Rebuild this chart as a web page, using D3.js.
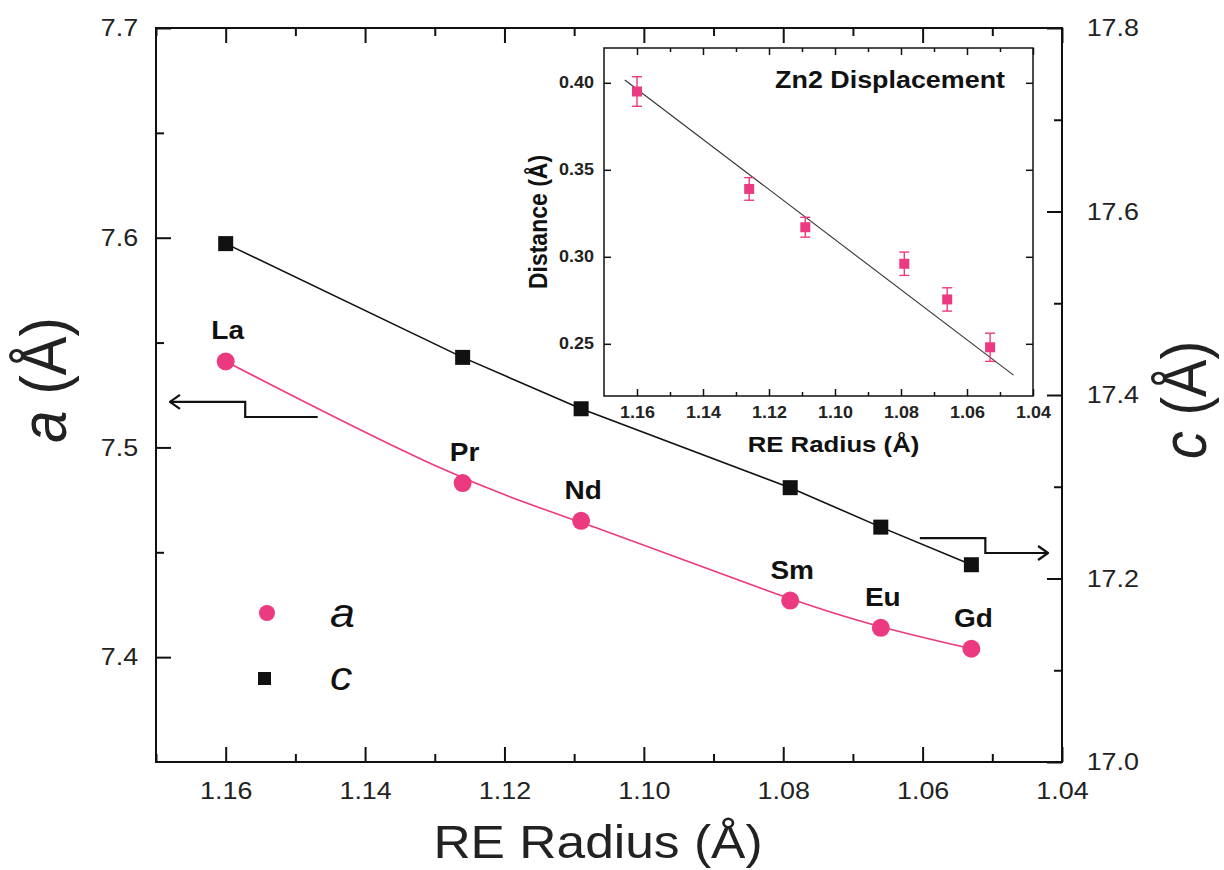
<!DOCTYPE html>
<html>
<head>
<meta charset="utf-8">
<script src="https://cdn.jsdelivr.net/npm/d3@7"></script>
<style>
  html, body { margin: 0; padding: 0; background: #fff; }
  svg { display: block; font-family: "Liberation Sans", Arial, sans-serif; }
</style>
</head>
<body>
<script>
// ---------------- data ----------------
const elements = ["La", "Pr", "Nd", "Sm", "Eu", "Gd"];
const radius   = [1.16, 1.126, 1.109, 1.079, 1.066, 1.053];
const aValues  = [7.541, 7.483, 7.465, 7.427, 7.414, 7.404];
const cValues  = [17.565, 17.441, 17.385, 17.299, 17.256, 17.215];

const xTicks      = [1.16, 1.14, 1.12, 1.10, 1.08, 1.06, 1.04];
const xMinorTicks = [1.17, 1.15, 1.13, 1.11, 1.09, 1.07, 1.05];
const aTicks      = [7.4, 7.5, 7.6, 7.7];
const aMinorTicks = [7.45, 7.55, 7.65];
const cTicks      = [17.0, 17.2, 17.4, 17.6, 17.8];
const cMinorTicks = [17.1, 17.3, 17.5, 17.7];

// inset (Zn2 displacement)
const distValues  = [0.395, 0.339, 0.317, 0.296, 0.2755, 0.248];
const distErrors  = [0.0085, 0.0065, 0.0057, 0.0067, 0.0067, 0.0081];
const fitX        = [1.1637, 1.0459];
const fitY        = [0.4016, 0.232];
const insetXTicks = [1.16, 1.14, 1.12, 1.10, 1.08, 1.06, 1.04];
const insetXMinor = [1.15, 1.13, 1.11, 1.09, 1.07, 1.05];
const insetYTicks = [0.25, 0.30, 0.35, 0.40];

// arrows (data coordinates): left arrow -> a axis, right arrow -> c axis
const arrowAX = [1.1468, 1.1572, 1.1572, 1.1680];
const arrowAY = [7.5145, 7.5145, 7.5217, 7.5217];
const arrowCX = [1.0604, 1.0510, 1.0510, 1.0420];
const arrowCY = [17.2441, 17.2441, 17.2278, 17.2278];

// ---------------- setup ----------------
const W = 1224, H = 870;
const SX = 1.12;           // horizontal stretch of the original rendering
const pink = "#ec3a80";
const ink = "#111";

const svg = d3.select("body").append("svg").attr("width", W).attr("height", H);
svg.append("rect").attr("width", W).attr("height", H).attr("fill", "#fff");

const defs = svg.append("defs");
defs.append("marker").attr("id", "arrowhead")
  .attr("viewBox", "0 0 12 16").attr("refX", 11).attr("refY", 8)
  .attr("markerWidth", 12).attr("markerHeight", 16).attr("markerUnits", "userSpaceOnUse")
  .attr("orient", "auto")
  .append("path").attr("d", "M1,1 L11,8 L1,15").attr("fill", "none")
  .attr("stroke", ink).attr("stroke-width", 2.2).attr("stroke-linejoin", "miter");

const L = 156, R = 1062, T = 28, B = 762;
const x  = d3.scaleLinear().domain([1.17, 1.04]).range([L, R]);
const yA = d3.scaleLinear().domain([7.35, 7.7]).range([B, T]);
const yC = d3.scaleLinear().domain([17.0, 17.8]).range([B, T]);

function styleAxis(g, fontSize, weight) {
  g.select(".domain").remove();
  g.selectAll(".tick line").attr("stroke", ink).attr("stroke-width", 2);
  g.selectAll(".tick text").attr("fill", "#222")
    .style("font-size", fontSize + "px").style("font-weight", weight || "normal")
    .attr("transform", `scale(${SX},1)`);
}

// main axes
const fmt2 = d3.format(".2f"), fmt1 = d3.format(".1f");
svg.append("g").attr("transform", `translate(0,${B})`)
  .call(d3.axisBottom(x).tickValues(xTicks).tickFormat(fmt2).tickSizeInner(-15).tickSizeOuter(0).tickPadding(20))
  .call(g => styleAxis(g, 24));
svg.append("g").attr("transform", `translate(0,${B})`)
  .call(d3.axisBottom(x).tickValues(xMinorTicks).tickFormat("").tickSizeInner(-8).tickSizeOuter(0))
  .call(g => styleAxis(g, 24));
svg.append("g").attr("transform", `translate(0,${T})`)
  .call(d3.axisTop(x).tickValues(xTicks).tickFormat("").tickSizeInner(-15).tickSizeOuter(0))
  .call(g => styleAxis(g, 24));
svg.append("g").attr("transform", `translate(0,${T})`)
  .call(d3.axisTop(x).tickValues(xMinorTicks).tickFormat("").tickSizeInner(-8).tickSizeOuter(0))
  .call(g => styleAxis(g, 24));

svg.append("g").attr("transform", `translate(${L},0)`)
  .call(d3.axisLeft(yA).tickValues(aTicks).tickFormat(fmt1).tickSizeInner(-15).tickSizeOuter(0).tickPadding(16))
  .call(g => styleAxis(g, 24));
svg.append("g").attr("transform", `translate(${L},0)`)
  .call(d3.axisLeft(yA).tickValues(aMinorTicks).tickFormat("").tickSizeInner(-8).tickSizeOuter(0))
  .call(g => styleAxis(g, 24));

svg.append("g").attr("transform", `translate(${R},0)`)
  .call(d3.axisRight(yC).tickValues(cTicks).tickFormat(fmt1).tickSizeInner(-15).tickSizeOuter(0).tickPadding(22))
  .call(g => styleAxis(g, 24));
svg.append("g").attr("transform", `translate(${R},0)`)
  .call(d3.axisRight(yC).tickValues(cMinorTicks).tickFormat("").tickSizeInner(-8).tickSizeOuter(0))
  .call(g => styleAxis(g, 24));

svg.append("rect").attr("x", L).attr("y", T).attr("width", R - L).attr("height", B - T)
  .attr("fill", "none").attr("stroke", ink).attr("stroke-width", 2);

// text helper
function label(parent, txt, px, py, size, opts = {}) {
  const rot = opts.rotate ? " rotate(-90) scale(1," + SX + ")" : ` scale(${SX},1)`;
  return parent.append("text").attr("transform", `translate(${px},${py})${rot}`)
    .attr("text-anchor", opts.anchor || "middle")
    .style("font-size", size + "px").style("font-weight", opts.weight || "normal")
    .style("font-style", opts.italic ? "italic" : "normal")
    .attr("fill", opts.fill || "#222").text(txt);
}

// axis titles
label(svg, "RE Radius (Å)", 598, 858, 46);
const ta = svg.append("text").attr("transform", `translate(66,380) rotate(-90) scale(1,${SX})`)
  .attr("text-anchor", "middle").style("font-size", "58px").attr("fill", "#222");
ta.append("tspan").style("font-style", "italic").text("a");
ta.append("tspan").text(" (Å)");
const tc = svg.append("text").attr("transform", `translate(1206,400) rotate(-90) scale(1,${SX})`)
  .attr("text-anchor", "middle").style("font-size", "56px").attr("fill", "#222");
tc.append("tspan").style("font-style", "italic").text("c");
tc.append("tspan").text(" (Å)");

// ---------------- series ----------------
const aData = radius.map((r, i) => ({ r, v: aValues[i], el: elements[i] }));
const cData = radius.map((r, i) => ({ r, v: cValues[i] }));

svg.append("path").datum(aData)
  .attr("d", d3.line().x(d => x(d.r)).y(d => yA(d.v)).curve(d3.curveBasis))
  .attr("fill", "none").attr("stroke", pink).attr("stroke-width", 1.6);
svg.append("path").datum(cData)
  .attr("d", d3.line().x(d => x(d.r)).y(d => yC(d.v)))
  .attr("fill", "none").attr("stroke", ink).attr("stroke-width", 1.6);

svg.selectAll(".ac").data(aData).enter().append("circle")
  .attr("cx", d => x(d.r)).attr("cy", d => yA(d.v)).attr("r", 9).attr("fill", pink);
svg.selectAll(".cs").data(cData).enter().append("rect")
  .attr("x", d => x(d.r) - 7.5).attr("y", d => yC(d.v) - 7.5)
  .attr("width", 15).attr("height", 15).attr("fill", ink);

aData.forEach(d => {
  label(svg, d.el, x(d.r) + 2, yA(d.v) - 22, 25, { weight: "bold", fill: "#111" });
});

// arrows
const arrowLine = d3.line();
svg.append("path")
  .attr("d", arrowLine(arrowAX.map((v, i) => [x(v), yA(arrowAY[i])])))
  .attr("fill", "none").attr("stroke", ink).attr("stroke-width", 2.2)
  .attr("marker-end", "url(#arrowhead)");
svg.append("path")
  .attr("d", arrowLine(arrowCX.map((v, i) => [x(v), yC(arrowCY[i])])))
  .attr("fill", "none").attr("stroke", ink).attr("stroke-width", 2.2)
  .attr("marker-end", "url(#arrowhead)");

// legend
const legend = svg.append("g");
legend.append("circle").attr("cx", 267).attr("cy", 613).attr("r", 8).attr("fill", pink);
legend.append("rect").attr("x", 258).attr("y", 672).attr("width", 13).attr("height", 13).attr("fill", ink);
label(legend, "a", 330, 627, 40, { anchor: "start", italic: true, fill: "#111" });
label(legend, "c", 330, 690, 40, { anchor: "start", italic: true, fill: "#111" });

// ---------------- inset ----------------
const iL = 604, iR = 1033, iT = 48, iB = 396;
const ix = d3.scaleLinear().domain([1.17, 1.04]).range([iL, iR]);
const iy = d3.scaleLinear().domain([0.22, 0.42]).range([iB, iT]);
const inset = svg.append("g");
inset.append("rect").attr("x", iL).attr("y", iT).attr("width", iR - iL).attr("height", iB - iT)
  .attr("fill", "#fff");

function styleInset(g) {
  g.select(".domain").remove();
  g.selectAll(".tick line").attr("stroke", ink).attr("stroke-width", 1.5);
  g.selectAll(".tick text").attr("fill", "#222")
    .style("font-size", "16px").style("font-weight", "bold")
    .attr("transform", `scale(${SX},1)`);
}
inset.append("g").attr("transform", `translate(0,${iB})`)
  .call(d3.axisBottom(ix).tickValues(insetXTicks).tickFormat(fmt2).tickSizeInner(-7).tickSizeOuter(0).tickPadding(11))
  .call(styleInset);
inset.append("g").attr("transform", `translate(0,${iB})`)
  .call(d3.axisBottom(ix).tickValues(insetXMinor).tickFormat("").tickSizeInner(-4).tickSizeOuter(0))
  .call(styleInset);
inset.append("g").attr("transform", `translate(0,${iT})`)
  .call(d3.axisTop(ix).tickValues(insetXTicks).tickFormat("").tickSizeInner(-7).tickSizeOuter(0))
  .call(styleInset);
inset.append("g").attr("transform", `translate(0,${iT})`)
  .call(d3.axisTop(ix).tickValues(insetXMinor).tickFormat("").tickSizeInner(-4).tickSizeOuter(0))
  .call(styleInset);
inset.append("g").attr("transform", `translate(${iL},0)`)
  .call(d3.axisLeft(iy).tickValues(insetYTicks).tickFormat(fmt2).tickSizeInner(-7).tickSizeOuter(0).tickPadding(9))
  .call(styleInset);
inset.append("g").attr("transform", `translate(${iR},0)`)
  .call(d3.axisRight(iy).tickValues(insetYTicks).tickFormat("").tickSizeInner(-7).tickSizeOuter(0))
  .call(styleInset);
inset.append("rect").attr("x", iL).attr("y", iT).attr("width", iR - iL).attr("height", iB - iT)
  .attr("fill", "none").attr("stroke", ink).attr("stroke-width", 1.5);

label(inset, "RE Radius (Å)", (iL + iR) / 2 + 15, 452, 23, { weight: "bold", fill: "#111" });
label(inset, "Distance (Å)", 547, (iT + iB) / 2, 23, { weight: "bold", fill: "#111", rotate: true });
label(inset, "Zn2 Displacement", 1005, 88, 24, { weight: "bold", fill: "#111", anchor: "end" });

// fit line
inset.append("path")
  .attr("d", d3.line()(fitX.map((v, i) => [ix(v), iy(fitY[i])])))
  .attr("fill", "none").attr("stroke", "#333").attr("stroke-width", 1.1);

const dData = radius.map((r, i) => ({ r, v: distValues[i], e: distErrors[i] }));
const eb = inset.selectAll(".eb").data(dData).enter().append("g").attr("stroke", pink).attr("stroke-width", 1.4);
eb.append("line").attr("x1", d => ix(d.r)).attr("x2", d => ix(d.r))
  .attr("y1", d => iy(d.v - d.e)).attr("y2", d => iy(d.v + d.e));
eb.append("line").attr("x1", d => ix(d.r) - 5).attr("x2", d => ix(d.r) + 5)
  .attr("y1", d => iy(d.v + d.e)).attr("y2", d => iy(d.v + d.e));
eb.append("line").attr("x1", d => ix(d.r) - 5).attr("x2", d => ix(d.r) + 5)
  .attr("y1", d => iy(d.v - d.e)).attr("y2", d => iy(d.v - d.e));
inset.selectAll(".ds").data(dData).enter().append("rect")
  .attr("x", d => ix(d.r) - 5).attr("y", d => iy(d.v) - 5)
  .attr("width", 10).attr("height", 10).attr("fill", pink);
</script>
</body>
</html>
